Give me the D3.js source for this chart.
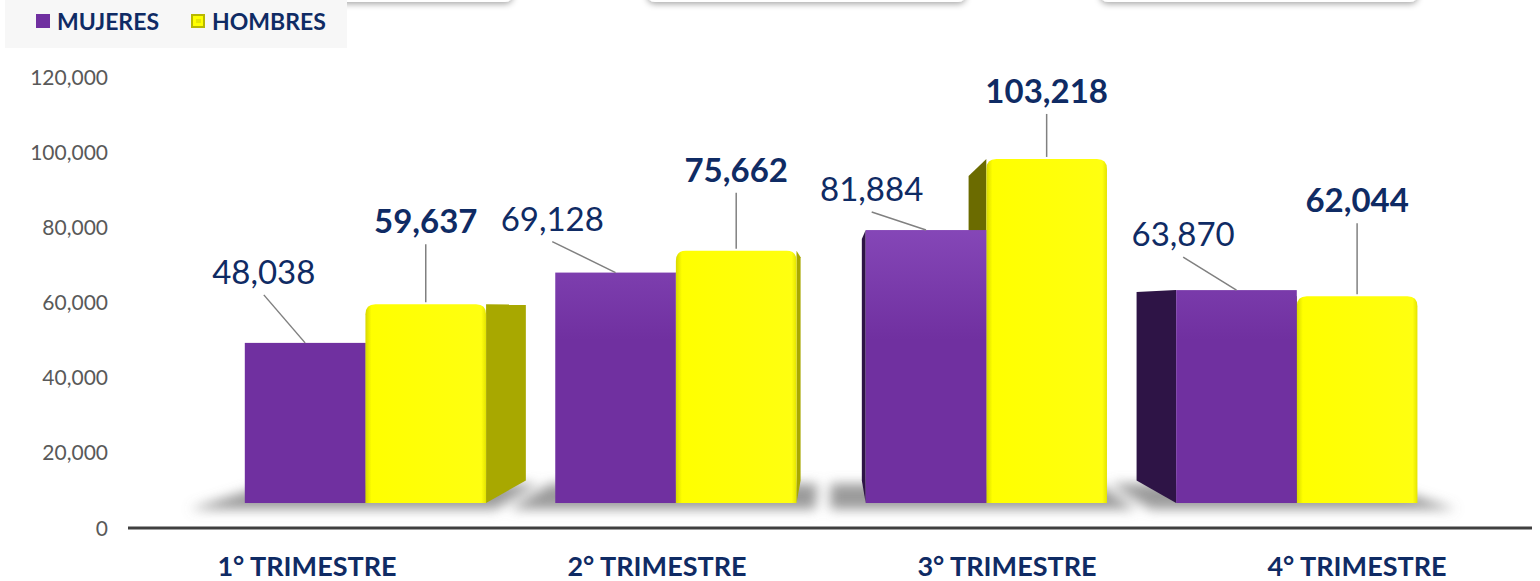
<!DOCTYPE html>
<html>
<head>
<meta charset="utf-8">
<script src="https://cdn.jsdelivr.net/npm/d3@7"></script>
<style>
  body { margin: 0; background: #fff; }
  svg { display: block; font-family: Lato, "Open Sans", sans-serif; }
</style>
</head>
<body>
<div id="chart"></div>
<script>
// --- Data ---
const categories = ['1° TRIMESTRE', '2° TRIMESTRE', '3° TRIMESTRE', '4° TRIMESTRE'];
const series = ['MUJERES', 'HOMBRES'];
const mujeres = [48038, 69128, 81884, 63870];
const hombres = [59637, 75662, 103218, 62044];
const yTicks = [0, 20000, 40000, 60000, 80000, 100000, 120000];

// manual label placement (like the moved labels of the original)
const labelDxM = [19, -3, 6, 7];
const labelLiftM = [59, 42, 29, 44];
const labelLiftH = [71, 69, 56, 84];

const width = 1540, height = 581;
const navy = '#0f2b64';

const svg = d3.select('#chart').append('svg')
    .attr('width', width)
    .attr('height', height);

const defs = svg.append('defs');

// Filters
const blur = defs.append('filter').attr('id', 'floorBlur')
    .attr('x', '-30%').attr('y', '-100%').attr('width', '160%').attr('height', '300%');
blur.append('feGaussianBlur').attr('stdDeviation', 6);

const drop = defs.append('filter').attr('id', 'boxShadow')
    .attr('x', '-10%').attr('y', '-50%').attr('width', '120%').attr('height', '200%');
drop.append('feDropShadow').attr('dx', 0).attr('dy', 2).attr('stdDeviation', 3)
    .attr('flood-color', '#000').attr('flood-opacity', 0.35);

// Gradients
const purpleGrad = defs.append('linearGradient').attr('id', 'purpleFront')
    .attr('gradientUnits', 'userSpaceOnUse')
    .attr('x1', 0).attr('y1', 150).attr('x2', 0).attr('y2', 340);
purpleGrad.append('stop').attr('offset', 0).attr('stop-color', '#9457c8');
purpleGrad.append('stop').attr('offset', 1).attr('stop-color', '#7030a0');

const yellowGrad = defs.append('linearGradient').attr('id', 'yellowFront')
    .attr('x1', 0).attr('y1', 0).attr('x2', 1).attr('y2', 0);
yellowGrad.append('stop').attr('offset', 0).attr('stop-color', '#d8d800');
yellowGrad.append('stop').attr('offset', 0.05).attr('stop-color', '#ffff00');
yellowGrad.append('stop').attr('offset', 0.96).attr('stop-color', '#ffff10');
yellowGrad.append('stop').attr('offset', 1).attr('stop-color', '#e4e400');

// --- Scales (axis plane) ---
const y = d3.scaleLinear().domain([0, 120000]).range([528, 77]);
const x0 = d3.scaleBand().domain(categories).range([132, 1532]);
const x1 = d3.scaleBand().domain(series).range([x0.bandwidth() / 2 - 137, x0.bandwidth() / 2 + 135]);

// perspective: bars sit behind the axis plane, converging on a vanishing point
const vp = { x: 832, y: 307 };
const kFront = 0.887, kBack = 0.785;
const proj = (X, Y, k) => [vp.x + (X - vp.x) * k, vp.y + (Y - vp.y) * k];

// --- Top decorative shadow boxes ---
[[190, 323], [647, 319], [1100, 318]].forEach(([bx, bw]) => {
    svg.append('rect')
        .attr('x', bx).attr('y', -40).attr('width', bw).attr('height', 42)
        .attr('rx', 8).attr('fill', '#fff').attr('filter', 'url(#boxShadow)');
});

// --- Legend ---
const legend = svg.append('g');
legend.append('rect').attr('x', 5).attr('y', 0).attr('width', 342).attr('height', 48).attr('fill', '#f7f7f7');
legend.append('rect').attr('x', 36).attr('y', 14).attr('width', 14).attr('height', 14).attr('fill', '#7030a0');
legend.append('rect').attr('x', 191).attr('y', 14).attr('width', 14).attr('height', 14).attr('fill', '#b8b800');
legend.append('rect').attr('x', 193).attr('y', 16).attr('width', 10).attr('height', 10).attr('fill', '#ffff00');
legend.append('rect').attr('x', 196).attr('y', 19).attr('width', 5).attr('height', 4).attr('fill', '#e6e600');
legend.selectAll('text.lg')
    .data(series)
    .enter().append('text')
    .attr('class', 'lg')
    .attr('x', (d, i) => i === 0 ? 57 : 212)
    .attr('y', 29.5)
    .attr('font-size', 23)
    .attr('font-weight', 700)
    .attr('fill', navy)
    .text(d => d);

// --- Y axis ticks ---
svg.append('g').selectAll('text')
    .data(yTicks)
    .enter().append('text')
    .attr('x', 108)
    .attr('y', d => y(d))
    .attr('dy', '0.36em')
    .attr('text-anchor', 'end')
    .attr('font-size', 21)
    .attr('fill', '#595959')
    .text(d => d3.format(',')(d));

// --- Build bar geometry ---
const bars = [];
categories.forEach((c, i) => {
    [['MUJERES', mujeres[i]], ['HOMBRES', hombres[i]]].forEach(([s, v]) => {
        const X0 = x0(c) + x1(s);
        const X1 = X0 + x1.bandwidth();
        const fl = proj(X0, y(v), kFront), fr = proj(X1, y(v), kFront);
        const bl = proj(X0, y(0), kFront);
        bars.push({
            cat: i, series: s, value: v, X0, X1,
            left: fl[0], right: fr[0], top: fl[1], bottom: bl[1],
            cx: (fl[0] + fr[0]) / 2
        });
    });
});

// --- Floor shadows ---
const floor = svg.append('g').attr('filter', 'url(#floorBlur)');
categories.forEach((c, i) => {
    const XL = x0(c) + x1('MUJERES') - 40;
    const XR = x0(c) + x1('HOMBRES') + x1.bandwidth() + 22;
    const pts = [proj(XL, y(0), 0.915), proj(XR, y(0), 0.915), proj(XR, y(0), 0.8), proj(XL, y(0), 0.8)];
    floor.append('polygon')
        .attr('points', pts.map(p => p.join(',')).join(' '))
        .attr('fill', '#7a7a7a')
        .attr('opacity', 0.75);
});

// --- Bars (far from vanishing point first) ---
const barG = svg.append('g');
bars.slice()
    .sort((a, b) => Math.abs(b.cx - vp.x) - Math.abs(a.cx - vp.x))
    .forEach(b => {
        const isH = b.series === 'HOMBRES';
        const rightSide = b.cx < vp.x;
        const Xe = rightSide ? b.X1 : b.X0;
        const p1 = proj(Xe, y(b.value), kFront), p2 = proj(Xe, y(0), kFront);
        const p3 = proj(Xe, y(0), kBack), p4 = proj(Xe, y(b.value), kBack);
        const sideColor = isH ? (rightSide ? '#a8a800' : '#6b6b00') : (rightSide ? '#4b2377' : '#2e1446');
        barG.append('polygon')
            .attr('points', [p1, p2, p3, p4].map(p => p.join(',')).join(' '))
            .attr('fill', sideColor);

        if (isH) {
            const r = 10, w = b.right - b.left;
            const path = d3.path();
            path.moveTo(b.left, b.bottom);
            path.lineTo(b.left, b.top + r);
            path.quadraticCurveTo(b.left, b.top, b.left + r, b.top);
            path.lineTo(b.left + w - r, b.top);
            path.quadraticCurveTo(b.right, b.top, b.right, b.top + r);
            path.lineTo(b.right, b.bottom);
            path.closePath();
            barG.append('path').attr('d', path.toString()).attr('fill', 'url(#yellowFront)');
        } else {
            barG.append('rect')
                .attr('x', b.left).attr('y', b.top)
                .attr('width', b.right - b.left).attr('height', b.bottom - b.top)
                .attr('fill', 'url(#purpleFront)');
        }
    });

// --- Axis line ---
svg.append('line')
    .attr('x1', 128).attr('x2', 1532)
    .attr('y1', y(0)).attr('y2', y(0))
    .attr('stroke', '#404040').attr('stroke-width', 3);

// --- Category labels ---
svg.append('g').selectAll('text')
    .data(categories)
    .enter().append('text')
    .attr('x', d => x0(d) + x0.bandwidth() / 2)
    .attr('y', 576)
    .attr('text-anchor', 'middle')
    .attr('font-size', 27)
    .attr('font-weight', 700)
    .attr('fill', navy)
    .text(d => d);

// --- Value labels with leader lines ---
const lab = svg.append('g');
bars.forEach(b => {
    const isH = b.series === 'HOMBRES';
    const lx = isH ? b.cx : b.left + labelDxM[b.cat];
    const ly = b.top - (isH ? labelLiftH[b.cat] : labelLiftM[b.cat]);
    lab.append('line')
        .attr('x1', lx).attr('y1', ly + 11)
        .attr('x2', b.cx).attr('y2', b.top - (isH ? 2 : 0))
        .attr('stroke', '#808080').attr('stroke-width', 1.5);
    lab.append('text')
        .attr('x', lx).attr('y', ly)
        .attr('text-anchor', 'middle')
        .attr('font-size', 33)
        .attr('font-weight', isH ? 700 : 400)
        .attr('fill', navy)
        .text(d3.format(',')(b.value));
});
</script>
</body>
</html>
